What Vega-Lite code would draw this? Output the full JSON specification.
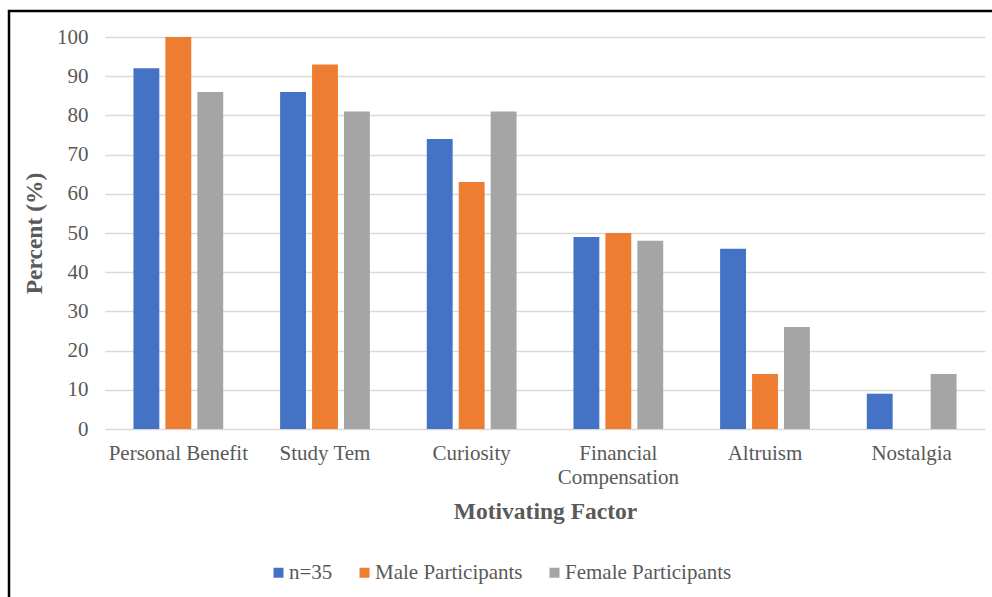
{
  "$schema": "https://vega.github.io/schema/vega-lite/v6.json",
  "autosize": "none",
  "width": 983,
  "height": 586,
  "padding": {"left": 9, "top": 11, "right": 0, "bottom": 0},
  "background": "white",
  "config": {
    "font": "Liberation Serif",
    "view": {"stroke": "black", "strokeWidth": 2.5, "strokeDash": [983, 1569, 586]},
    "axis": {
      "labelFont": "Liberation Serif",
      "labelColor": "#595959",
      "labelFontSize": 21,
      "titleFont": "Liberation Serif",
      "titleColor": "#595959",
      "titleFontSize": 23.5,
      "titleFontWeight": "bold",
      "domain": false,
      "ticks": false,
      "gridColor": "#d9d9d9",
      "gridWidth": 1.5
    },
    "legend": {
      "labelFont": "Liberation Serif",
      "labelColor": "#595959",
      "labelFontSize": 21,
      "labelLimit": 400
    }
  },
  "data": {
    "values": [
      {"factor": "Personal Benefit", "group": "n=35", "percent": 92},
      {"factor": "Personal Benefit", "group": "Male Participants", "percent": 100},
      {"factor": "Personal Benefit", "group": "Female Participants", "percent": 86},
      {"factor": "Study Tem", "group": "n=35", "percent": 86},
      {"factor": "Study Tem", "group": "Male Participants", "percent": 93},
      {"factor": "Study Tem", "group": "Female Participants", "percent": 81},
      {"factor": "Curiosity", "group": "n=35", "percent": 74},
      {"factor": "Curiosity", "group": "Male Participants", "percent": 63},
      {"factor": "Curiosity", "group": "Female Participants", "percent": 81},
      {"factor": "Financial Compensation", "group": "n=35", "percent": 49},
      {"factor": "Financial Compensation", "group": "Male Participants", "percent": 50},
      {"factor": "Financial Compensation", "group": "Female Participants", "percent": 48},
      {"factor": "Altruism", "group": "n=35", "percent": 46},
      {"factor": "Altruism", "group": "Male Participants", "percent": 14},
      {"factor": "Altruism", "group": "Female Participants", "percent": 26},
      {"factor": "Nostalgia", "group": "n=35", "percent": 9},
      {"factor": "Nostalgia", "group": "Male Participants", "percent": 0},
      {"factor": "Nostalgia", "group": "Female Participants", "percent": 14}
    ]
  },
  "mark": {"type": "bar"},
  "encoding": {
    "x": {
      "field": "factor",
      "type": "nominal",
      "sort": null,
      "scale": {"range": [96, 976], "paddingInner": 0.388, "paddingOuter": 0.194},
      "axis": {
        "title": "Motivating Factor",
        "labelAngle": 0,
        "offset": -168,
        "labelPadding": 13,
        "labelLineHeight": 24,
        "titlePadding": 12,
        "grid": false,
        "labelExpr": "datum.label == 'Financial Compensation' ? ['Financial', 'Compensation'] : datum.label"
      }
    },
    "xOffset": {
      "field": "group",
      "type": "nominal",
      "sort": ["n=35", "Male Participants", "Female Participants"],
      "scale": {"paddingInner": 0.19, "paddingOuter": 0}
    },
    "y": {
      "field": "percent",
      "type": "quantitative",
      "scale": {"domain": [0, 100], "range": [418, 26], "nice": false},
      "axis": {
        "title": "Percent (%)",
        "values": [0, 10, 20, 30, 40, 50, 60, 70, 80, 90, 100],
        "offset": -96,
        "labelPadding": 17,
        "titlePadding": 10,
        "grid": true
      }
    },
    "color": {
      "field": "group",
      "type": "nominal",
      "scale": {
        "domain": ["n=35", "Male Participants", "Female Participants"],
        "range": ["#4472c4", "#ed7d31", "#a5a5a5"]
      },
      "legend": {
        "title": null,
        "orient": "none",
        "direction": "horizontal",
        "legendX": 259,
        "legendY": 551,
        "symbolType": "square",
        "symbolSize": 100,
        "symbolStrokeWidth": 0,
        "labelOffset": 0,
        "columnPadding": 21
      }
    }
  }
}
